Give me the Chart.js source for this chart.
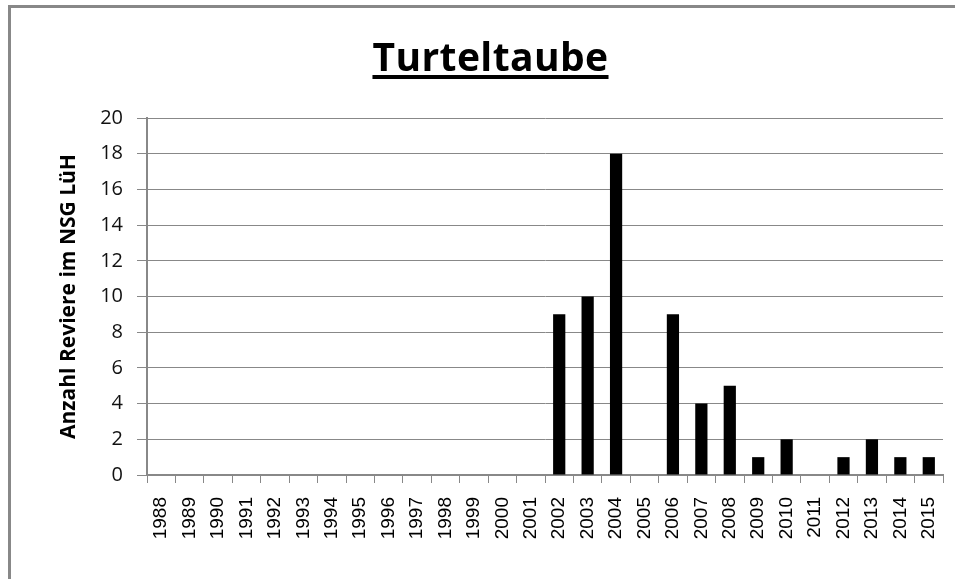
<!DOCTYPE html>
<html>
<head>
<meta charset="utf-8">
<script src="https://cdn.jsdelivr.net/npm/chart.js@4"></script>
<style>
    html, body { margin: 0; padding: 0; background: #fff; }
    #wrap { position: relative; width: 955px; height: 579px; }
    #title {
        position: absolute; left: 13px; width: 955px; top: 33px; text-align: center;
        font-family: "Open Sans", sans-serif; font-weight: bold; font-size: 39px;
        text-decoration: underline; text-decoration-thickness: 4px; text-underline-offset: 4px;
        letter-spacing: 0.4px; color: #000; line-height: 1.2;
    }
</style>
</head>
<body>
<div id="wrap">
    <canvas id="chart" width="955" height="579"></canvas>
    <div id="title">Turteltaube</div>
</div>
<script>
const years = ['1988', '1989', '1990', '1991', '1992', '1993', '1994', '1995', '1996', '1997',
    '1998', '1999', '2000', '2001', '2002', '2003', '2004', '2005', '2006', '2007',
    '2008', '2009', '2010', '2011', '2012', '2013', '2014', '2015'];
const reviere = [0, 0, 0, 0, 0, 0, 0, 0, 0, 0,
    0, 0, 0, 0, 9, 10, 18, 0, 9, 4,
    5, 1, 2, 0, 1, 2, 1, 1];
const yTicks = [0, 2, 4, 6, 8, 10, 12, 14, 16, 18, 20];
const yTitle = 'Anzahl Reviere im NSG LüH';

// top + left frame like the original export
const framePlugin = {
    id: 'frame',
    beforeDraw(chart) {
        const ctx = chart.ctx;
        ctx.save();
        ctx.fillStyle = '#fff';
        ctx.fillRect(0, 0, chart.width, chart.height);
        ctx.fillStyle = '#888';
        ctx.fillRect(8, 5, chart.width - 8, 3);
        ctx.fillRect(8, 5, 3, chart.height - 5);
        ctx.restore();
    }
};

new Chart(document.getElementById('chart'), {
    type: 'bar',
    data: {
        labels: years,
        datasets: [{
            data: reviere,
            backgroundColor: '#000',
            barPercentage: 0.43,
            categoryPercentage: 1
        }]
    },
    options: {
        responsive: false, animation: false,
        layout: { padding: { left: 52, right: 12, top: 118, bottom: 0 } },
        plugins: { legend: { display: false }, tooltip: { enabled: false } },
        scales: {
            x: {
                afterFit: axis => { axis.height = 104; axis.paddingLeft = 0; axis.paddingRight = 0; },
                grid: { offset: true, drawOnChartArea: false, drawTicks: true, tickLength: 8, color: '#888', lineWidth: 1 },
                border: { color: '#888', width: 2 },
                ticks: {
                    maxRotation: 90, minRotation: 90, autoSkip: false, padding: 14,
                    color: '#000', font: { family: 'Liberation Sans', size: 19 }
                }
            },
            y: {
                min: 0, max: 20,
                afterFit: axis => { axis.width = 95; },
                afterBuildTicks: axis => { axis.ticks = yTicks.map(v => ({ value: v })); },
                grid: { color: '#888', lineWidth: 1, tickLength: 10 },
                border: { color: '#888', width: 2 },
                ticks: {
                    padding: 14, color: '#111',
                    font: { family: 'Open Sans', size: 20 }
                },
                title: {
                    display: true, text: yTitle, color: '#000', padding: { top: 4, bottom: 4 },
                    font: { family: 'Open Sans', size: 21, weight: 'bold' }
                }
            }
        }
    },
    plugins: [framePlugin]
});
</script>
</body>
</html>
